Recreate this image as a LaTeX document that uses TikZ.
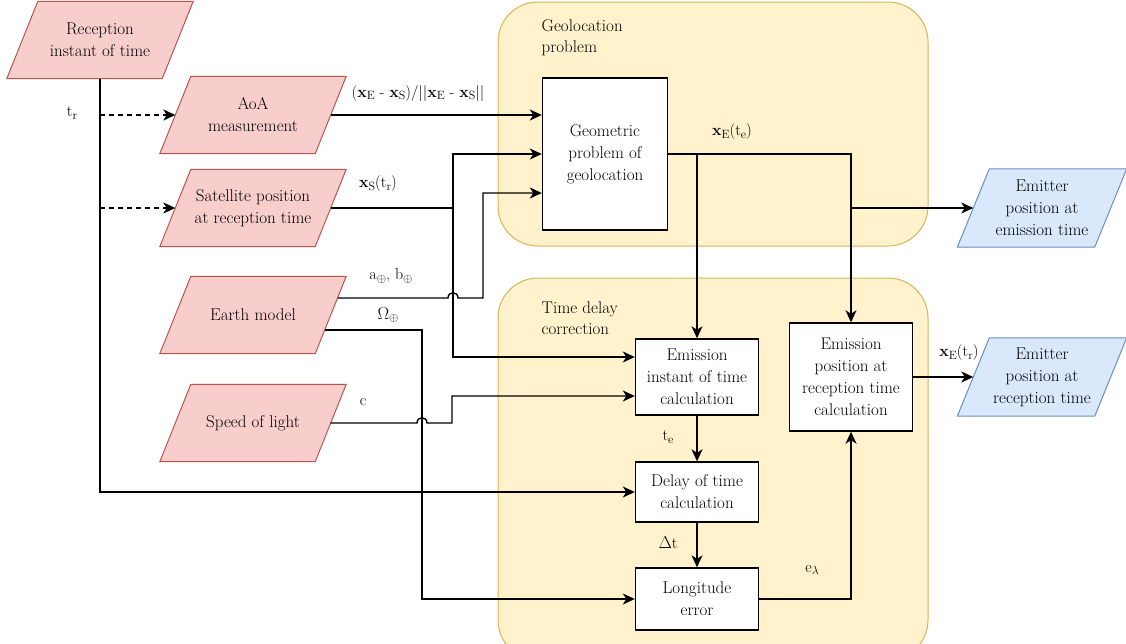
\documentclass[tikz,border=0pt]{standalone}
\usetikzlibrary{arrows.meta,backgrounds,calc,positioning}
\definecolor{InRed}{HTML}{F8CECC}
\definecolor{InRedLine}{HTML}{B85450}
\definecolor{OutBlue}{HTML}{DAE8FC}
\definecolor{OutBlueLine}{HTML}{6C8EBF}
\definecolor{GroupFill}{HTML}{FFF2CC}
\definecolor{GroupLine}{HTML}{D6B656}
\newcommand{\lowidx}[1]{\raisebox{-0.35ex}{\fontsize{12}{12}\selectfont #1}}
\tikzset{
  every picture/.style={line width=1.4pt},
  databox/.style={
    minimum width=154pt,
    minimum height=76pt,
    inner sep=2pt,
    align=center,
    font=\fontsize{17}{22}\selectfont
  },
  inbox/.style={databox},
  outbox/.style={databox, minimum width=136pt, minimum height=77pt},
  inplate/.style={fill=InRed, draw=InRedLine, line width=1pt},
  outplate/.style={fill=OutBlue, draw=OutBlueLine, line width=1pt},
  calcbox/.style={
    draw=black,
    fill=white,
    align=center,
    minimum width=123pt,
    inner sep=2pt,
    font=\fontsize{17}{22}\selectfont
  },
  groupbox/.style={draw=GroupLine, fill=GroupFill, rounded corners=40pt, line width=1pt},
  grouptitle/.style={align=left, anchor=north west, inner sep=0pt, font=\fontsize{17}{21}\selectfont},
  flowarrow/.style={-{Stealth[length=12pt,width=11pt,inset=3.5pt]}},
  dasharrow/.style={flowarrow, dash pattern=on 5pt off 4pt},
  lbl/.style={font=\fontsize{16}{18}\selectfont, inner sep=1pt}
}

\begin{document}
\begin{tikzpicture}[x=1pt, y=-1pt]
  \useasboundingbox (0,0) rectangle (1126,643);

  % groups
  \node[groupbox, minimum width=430pt, minimum height=244pt] (geoloc) at (713,124) {};
  \node[groupbox, minimum width=430pt, minimum height=382pt] (tdc) at (713,469) {};
  \node[grouptitle] (geoloctitle) at (541,19) {Geolocation\\problem};
  \node[grouptitle] (tdctitle) at (541,301) {Time delay\\correction};

  % inputs and outputs
  \node[inbox] (rec) at (100,40) {Reception\\instant of time};
  \node[inbox] (aoa) at (253,115) {AoA\\measurement};
  \node[inbox] (sat) at (253,208) {Satellite position\\at reception time};
  \node[inbox] (earth) at (253,315) {Earth model};
  \node[inbox] (light) at (253,423) {Speed of light};
  \node[outbox] (emitE) at (1042,208) {Emitter\\position at\\emission time};
  \node[outbox] (emitR) at (1042,377) {Emitter\\position at\\reception time};

  % parallelograms behind the data nodes
  \begin{scope}[on background layer]
    \foreach \n in {rec,aoa,sat,earth,light}
      \draw[inplate] ($(\n.south west)+(-15.5,0)$) -- ($(\n.north west)+(15.5,0)$)
        -- ($(\n.north east)+(15.5,0)$) -- ($(\n.south east)+(-15.5,0)$) -- cycle;
    \foreach \n in {emitE,emitR}
      \draw[outplate] ($(\n.south west)+(-16,0)$) -- ($(\n.north west)+(16,0)$)
        -- ($(\n.north east)+(16,0)$) -- ($(\n.south east)+(-16,0)$) -- cycle;
  \end{scope}

  % calculations
  \node[calcbox, minimum width=125pt, minimum height=152pt] (geom) at (605,154) {Geometric\\problem of\\geolocation};
  \node[calcbox, minimum height=76pt] (emi) at (697,377) {Emission\\instant of time\\calculation};
  \node[calcbox, minimum height=60pt] (dly) at (697,492) {Delay of time\\calculation};
  \node[calcbox, minimum height=62pt] (lng) at (697,599) {Longitude\\error};
  \node[calcbox, minimum height=108pt] (epc) at (851,377) {Emission\\position at\\reception time\\calculation};

  % reception time
  \draw[flowarrow] (rec.south) |- (dly.west);
  \draw[dasharrow] (rec.south |- aoa.west) -- (aoa.west);
  \draw[dasharrow] (rec.south |- sat.west) -- (sat.west);

  % measurement and satellite
  \draw[flowarrow] (aoa.east) -- (aoa.east -| geom.west);
  \coordinate (satjoint) at (453,208);
  \draw[flowarrow] (sat.east) -- (satjoint) |- (geom.west);
  \draw[flowarrow] (satjoint) |- ([yshift=20pt]emi.west);

  % earth model
  \coordinate (earthhi) at ($(earth.east)+(6.9,-17)$);
  \coordinate (earthlo) at ($(earth.east)+(-6.1,15)$);
  \draw[flowarrow] (earthhi) -- (448,298) .. controls (448,291) and (458,291) .. (458,298)
    -- (483,298) |- ([yshift=-39pt]geom.west);
  \coordinate (omegajoint) at (422,330);
  \draw[flowarrow] (earthlo) -- (omegajoint) |- (lng.west);

  % speed of light
  \draw[flowarrow] (light.east) -- (417,423) .. controls (417,416) and (427,416) .. (427,423)
    -- (452,423) |- ([yshift=-19pt]emi.west);

  % geolocation result
  \draw[flowarrow] (geom.east) -| (epc.north);
  \draw[flowarrow] (geom.east -| emi.north) -- (emi.north);
  \draw[flowarrow] (epc.north |- emitE.west) -- (emitE.west);

  % delay chain
  \draw[flowarrow] (emi.south) -- (dly.north);
  \draw[flowarrow] (dly.south) -- (lng.north);
  \draw[flowarrow] (lng.east) -| (epc.south);
  \draw[flowarrow] (epc.east) -- (emitR.west);

  % labels
  \node[lbl] (lbltr) at (72,113) {t\lowidx{r}};
  \node[lbl] (lbldir) at (418,93) {(\textbf{x}\lowidx{E} - \textbf{x}\lowidx{S})/||\textbf{x}\lowidx{E} - \textbf{x}\lowidx{S}||};
  \node[lbl] (lblxs) at (378,184) {\textbf{x}\lowidx{S}(t\lowidx{r})};
  \node[lbl] (lblab) at (391,276) {a\lowidx{$\oplus$}, b\lowidx{$\oplus$}};
  \node[lbl] (lblomega) at (388,315) {$\Omega$\lowidx{$\oplus$}};
  \node[lbl] (lblc) at (363,402) {c};
  \node[lbl] (lblxe) at (732,132) {\textbf{x}\lowidx{E}(t\lowidx{e})};
  \node[lbl] (lblte) at (668,437) {t\lowidx{e}};
  \node[lbl] (lbldt) at (668,543) {$\Delta$t};
  \node[lbl] (lblel) at (812,570) {e\lowidx{$\lambda$}};
  \node[lbl] (lblxr) at (959,353) {\textbf{x}\lowidx{E}(t\lowidx{r})};
\end{tikzpicture}
\end{document}
